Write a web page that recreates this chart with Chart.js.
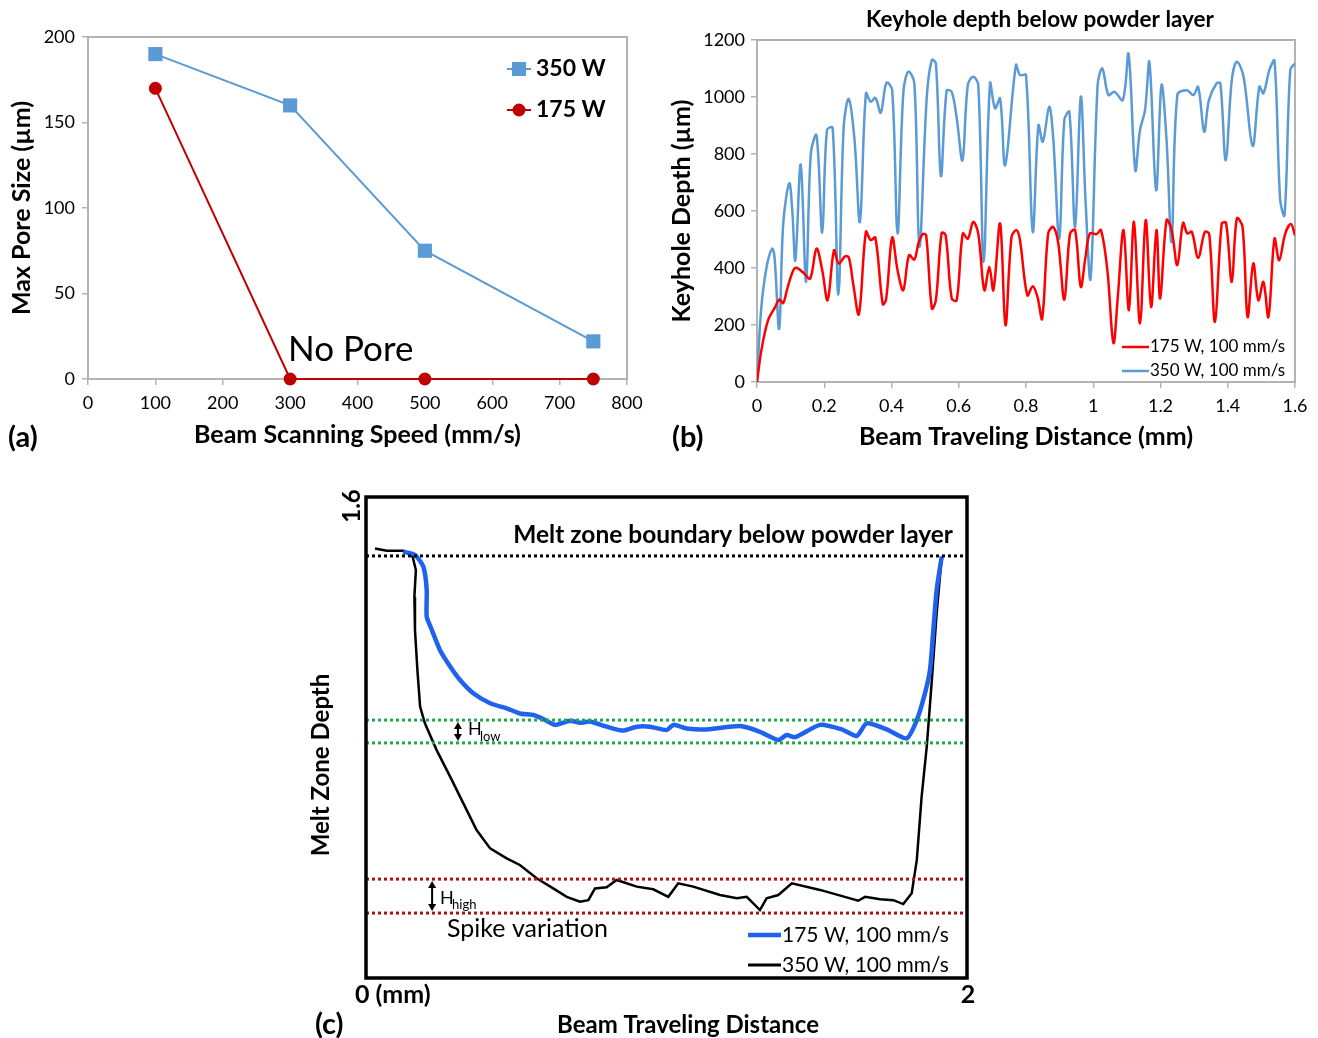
<!DOCTYPE html>
<html>
<head>
<meta charset="utf-8">
<script src="https://cdn.jsdelivr.net/npm/chart.js@4.4.1/dist/chart.umd.min.js"></script>
<style>
  html, body { margin: 0; padding: 0; background: #fff; width: 1318px; height: 1038px; overflow: hidden; }
  .panel { position: absolute; }
  canvas { display: block; }
</style>
</head>
<body>
<div class="panel" style="left:0;top:0;"><canvas id="chartA" width="650" height="460"></canvas></div>
<div class="panel" style="left:660px;top:0;"><canvas id="chartB" width="658" height="460"></canvas></div>
<div class="panel" style="left:300px;top:480px;"><canvas id="chartC" width="700" height="558"></canvas></div>
<script>
// ---------- (a) maximum pore size vs. beam scanning speed ----------
const scanSpeeds   = [100, 300, 500, 750];
const poreSize350W = [190, 160, 75, 22];
const poreSize175W = [170, 0, 0, 0];

// ---------- (b) keyhole depth below powder layer (µm) vs. distance (mm) ----------
const keyholeDist350W = [0, 0.012, 0.028, 0.045, 0.052, 0.066, 0.078, 0.096, 0.105, 0.114, 0.13, 0.146, 0.16, 0.177, 0.194, 0.208, 0.225, 0.242, 0.258, 0.273, 0.29, 0.306, 0.324, 0.338, 0.352, 0.368, 0.385, 0.402, 0.418, 0.435, 0.45, 0.468, 0.483, 0.505, 0.52, 0.532, 0.547, 0.564, 0.579, 0.594, 0.611, 0.627, 0.643, 0.658, 0.674, 0.693, 0.708, 0.723, 0.738, 0.77, 0.782, 0.8, 0.82, 0.837, 0.85, 0.869, 0.881, 0.899, 0.914, 0.929, 0.946, 0.963, 0.977, 0.992, 1.013, 1.027, 1.045, 1.063, 1.088, 1.105, 1.125, 1.139, 1.154, 1.167, 1.187, 1.203, 1.218, 1.233, 1.25, 1.278, 1.298, 1.312, 1.33, 1.344, 1.367, 1.378, 1.394, 1.412, 1.427, 1.447, 1.474, 1.494, 1.506, 1.524, 1.539, 1.556, 1.569, 1.586, 1.6];
const keyholeDepth350W = [0, 250, 400, 468, 440, 187, 556, 697, 600, 427, 763, 351, 800, 866, 524, 884, 892, 307, 900, 993, 850, 562, 1013, 983, 997, 945, 1050, 1024, 521, 1013, 1089, 1048, 474, 1001, 1130, 1118, 723, 1022, 1018, 925, 778, 1042, 1071, 1042, 421, 1048, 960, 995, 761, 1112, 1077, 1077, 527, 901, 843, 966, 855, 503, 919, 948, 544, 1001, 638, 363, 1042, 1100, 1007, 1018, 989, 1151, 743, 884, 954, 1122, 673, 1042, 849, 492, 1007, 1024, 1007, 1036, 878, 989, 1048, 1048, 778, 1059, 1124, 1071, 828, 1036, 1013, 1095, 1127, 638, 585, 1095, 1118];

const keyholeDist175W = [0, 0.013, 0.033, 0.054, 0.066, 0.078, 0.09, 0.108, 0.118, 0.138, 0.158, 0.177, 0.194, 0.21, 0.229, 0.243, 0.262, 0.273, 0.286, 0.303, 0.324, 0.338, 0.352, 0.374, 0.384, 0.402, 0.418, 0.435, 0.452, 0.468, 0.48, 0.493, 0.503, 0.52, 0.532, 0.549, 0.561, 0.579, 0.594, 0.612, 0.627, 0.643, 0.658, 0.676, 0.691, 0.703, 0.723, 0.739, 0.757, 0.772, 0.782, 0.804, 0.82, 0.834, 0.848, 0.866, 0.881, 0.896, 0.914, 0.931, 0.946, 0.963, 0.977, 0.99, 1.01, 1.023, 1.042, 1.06, 1.073, 1.09, 1.106, 1.121, 1.139, 1.156, 1.172, 1.188, 1.199, 1.218, 1.233, 1.25, 1.267, 1.28, 1.293, 1.312, 1.332, 1.345, 1.362, 1.382, 1.395, 1.412, 1.427, 1.444, 1.459, 1.476, 1.491, 1.506, 1.521, 1.539, 1.553, 1.571, 1.588, 1.6];
const keyholeDepth175W = [0, 111, 217, 263, 289, 277, 328, 392, 401, 383, 363, 468, 392, 287, 462, 416, 441, 437, 345, 238, 527, 498, 507, 273, 290, 507, 392, 322, 445, 430, 486, 519, 515, 258, 287, 523, 515, 293, 287, 521, 503, 562, 521, 322, 404, 322, 556, 199, 509, 533, 498, 304, 336, 299, 222, 521, 544, 486, 289, 521, 533, 334, 439, 521, 519, 533, 392, 137, 299, 533, 252, 562, 205, 568, 263, 533, 293, 568, 533, 410, 558, 521, 527, 436, 527, 519, 211, 556, 558, 351, 574, 544, 228, 416, 287, 351, 228, 503, 427, 521, 554, 515];

// ---------- (c) melt zone boundary below powder layer ----------
const meltDist175W  = [0.124, 0.163, 0.191, 0.202, 0.202, 0.219, 0.246, 0.28, 0.313, 0.357, 0.413, 0.468, 0.512, 0.557, 0.585, 0.629, 0.679, 0.712, 0.745, 0.801, 0.856, 0.901, 0.945, 1.001, 1.023, 1.067, 1.134, 1.245, 1.311, 1.372, 1.4, 1.428, 1.511, 1.583, 1.633, 1.666, 1.733, 1.799, 1.833, 1.86, 1.877, 1.888, 1.899, 1.916];
const meltDepth175W = [1.418, 1.407, 1.368, 1.291, 1.202, 1.158, 1.091, 1.036, 0.991, 0.947, 0.914, 0.897, 0.88, 0.875, 0.864, 0.842, 0.856, 0.849, 0.853, 0.836, 0.823, 0.836, 0.836, 0.825, 0.842, 0.83, 0.827, 0.838, 0.819, 0.792, 0.808, 0.801, 0.842, 0.827, 0.805, 0.847, 0.827, 0.797, 0.858, 0.947, 1.025, 1.158, 1.291, 1.402];

const meltDist350W  = [0.03, 0.069, 0.124, 0.155, 0.166, 0.161, 0.163, 0.171, 0.18, 0.196, 0.235, 0.28, 0.324, 0.368, 0.413, 0.468, 0.512, 0.568, 0.623, 0.668, 0.712, 0.74, 0.762, 0.801, 0.834, 0.901, 0.956, 1.006, 1.039, 1.089, 1.178, 1.234, 1.267, 1.311, 1.333, 1.372, 1.417, 1.511, 1.611, 1.638, 1.661, 1.711, 1.755, 1.788, 1.816, 1.833, 1.849, 1.866, 1.883, 1.899, 1.916];
const meltDepth350W = [1.429, 1.421, 1.421, 1.402, 1.357, 1.268, 1.158, 1.025, 0.903, 0.847, 0.758, 0.67, 0.581, 0.492, 0.431, 0.398, 0.376, 0.332, 0.298, 0.27, 0.254, 0.259, 0.298, 0.302, 0.326, 0.304, 0.295, 0.27, 0.315, 0.304, 0.276, 0.265, 0.27, 0.226, 0.265, 0.276, 0.315, 0.293, 0.265, 0.257, 0.27, 0.262, 0.259, 0.246, 0.282, 0.393, 0.603, 0.769, 0.991, 1.213, 1.402];

const powderBoundary = 1.404;          // top dotted reference line
const lowPowerBand   = [0.858, 0.782]; // H_low band (green)
const highPowerBand  = [0.329, 0.216]; // H_high band (red)
const meltDistRange  = [0, 2];

// ---------- shared helpers ----------
const FONT = 'Lato, "Open Sans", sans-serif';
const AXIS_GREY = '#b3b3b3';
Chart.defaults.font.family = FONT;
Chart.defaults.color = '#000';

const toXY = (xs, ys) => xs.map((x, i) => ({ x, y: ys[i] }));
const plainNumber = v => String(Math.round(v * 1000) / 1000);

function drawText(ctx, s, x, y, size, opts = {}) {
  ctx.save();
  ctx.font = `${opts.weight || 'normal'} ${size}px ${FONT}`;
  ctx.fillStyle = opts.color || '#000';
  ctx.textAlign = opts.align || 'left';
  ctx.textBaseline = 'middle';
  ctx.translate(x, y);
  if (opts.rotate) ctx.rotate(opts.rotate);
  ctx.fillText(s, 0, 0);
  ctx.restore();
}

function plotBox(color, width) {
  return {
    id: 'plotBox',
    beforeDatasetsDraw(chart) {
      const { ctx, chartArea: a } = chart;
      ctx.save();
      ctx.strokeStyle = color;
      ctx.lineWidth = width;
      ctx.strokeRect(a.left, a.top, a.right - a.left, a.bottom - a.top);
      ctx.restore();
    }
  };
}

function axisStyle(extra) {
  return Object.assign({
    grid: { drawOnChartArea: false, drawTicks: true, tickLength: 6, color: AXIS_GREY, lineWidth: 1.5 },
    border: { color: AXIS_GREY, width: 2 }
  }, extra);
}

// ---------- chart (a) ----------
new Chart(document.getElementById('chartA'), {
  type: 'scatter',
  data: {
    datasets: [
      { label: '350 W', data: toXY(scanSpeeds, poreSize350W), showLine: true, clip: false,
        borderColor: '#5b9bd5', backgroundColor: '#5b9bd5', borderWidth: 2,
        pointStyle: 'rect', pointRadius: 10, pointBorderWidth: 0 },
      { label: '175 W', data: toXY(scanSpeeds, poreSize175W), showLine: true, clip: false,
        borderColor: '#c00000', backgroundColor: '#c00000', borderWidth: 2,
        pointStyle: 'circle', pointRadius: 6.5, pointBorderWidth: 0 }
    ]
  },
  options: {
    responsive: false, animation: false, devicePixelRatio: 1,
    layout: { padding: { left: 0, top: 37, right: 23, bottom: 0 } },
    plugins: { legend: { display: false }, tooltip: { enabled: false } },
    scales: {
      x: axisStyle({
        type: 'linear', min: 0, max: 800,
        ticks: { stepSize: 100, padding: 7, font: { size: 18 }, color: '#000', callback: plainNumber },
        title: { display: true, text: 'Beam Scanning Speed (mm/s)', font: { size: 25, weight: 'bold' }, color: '#000', padding: { top: 0, bottom: 10 } },
        afterFit(s) { s.height = 81; }
      }),
      y: axisStyle({
        min: 0, max: 200,
        ticks: { stepSize: 50, padding: 7, font: { size: 18 }, color: '#000', callback: plainNumber },
        title: { display: true, text: 'Max Pore Size (µm)', font: { size: 25, weight: 'bold' }, color: '#000', padding: { top: 7, bottom: 0 } },
        afterFit(s) { s.width = 88; }
      })
    }
  },
  plugins: [plotBox(AXIS_GREY, 2), {
    id: 'panelA',
    afterDraw(chart) {
      const ctx = chart.ctx;
      drawText(ctx, '(a)', 8, 438, 29, { weight: 'bold' });
      drawText(ctx, 'No Pore', 288, 350, 35);
      // legend
      const ds = chart.data.datasets;
      const rows = [[ds[0], 69], [ds[1], 110]];
      rows.forEach(([d, y]) => {
        ctx.save();
        ctx.strokeStyle = d.borderColor; ctx.lineWidth = 2;
        ctx.beginPath(); ctx.moveTo(507, y); ctx.lineTo(531, y); ctx.stroke();
        ctx.fillStyle = d.backgroundColor;
        if (d.pointStyle === 'rect') ctx.fillRect(512, y - 7, 14, 14);
        else { ctx.beginPath(); ctx.arc(519, y, 6.5, 0, Math.PI * 2); ctx.fill(); }
        ctx.restore();
        drawText(ctx, d.label, 536, y, 23, { weight: 'bold' });
      });
    }
  }]
});

// ---------- chart (b) ----------
new Chart(document.getElementById('chartB'), {
  type: 'scatter',
  data: {
    datasets: [
      { label: '175 W, 100 mm/s', data: toXY(keyholeDist175W, keyholeDepth175W), showLine: true,
        borderColor: '#ff0000', borderWidth: 2.5, pointRadius: 0, tension: 0.35 },
      { label: '350 W, 100 mm/s', data: toXY(keyholeDist350W, keyholeDepth350W), showLine: true,
        borderColor: '#5b9bd5', borderWidth: 2.5, pointRadius: 0, tension: 0.35 }
    ]
  },
  options: {
    responsive: false, animation: false, devicePixelRatio: 1,
    layout: { padding: { left: 0, top: 40, right: 23, bottom: 0 } },
    plugins: { legend: { display: false }, tooltip: { enabled: false } },
    scales: {
      x: axisStyle({
        type: 'linear', min: 0, max: 1.6,
        ticks: { stepSize: 0.2, padding: 7, font: { size: 18 }, color: '#000', callback: plainNumber },
        title: { display: true, text: 'Beam Traveling Distance (mm)', font: { size: 25, weight: 'bold' }, color: '#000', padding: { top: 0, bottom: 8 } },
        afterFit(s) { s.height = 78; }
      }),
      y: axisStyle({
        min: 0, max: 1200,
        ticks: { stepSize: 200, padding: 6, font: { size: 18 }, color: '#000', callback: plainNumber },
        title: { display: true, text: 'Keyhole Depth (µm)', font: { size: 25, weight: 'bold' }, color: '#000', padding: { top: 7, bottom: 0 } },
        afterFit(s) { s.width = 97; }
      })
    }
  },
  plugins: [plotBox(AXIS_GREY, 2), {
    id: 'panelB',
    afterDraw(chart) {
      const ctx = chart.ctx;
      drawText(ctx, 'Keyhole depth below powder layer', 380, 20, 22.5, { weight: 'bold', align: 'center' });
      drawText(ctx, '(b)', 12, 438, 29, { weight: 'bold' });
      chart.data.datasets.forEach((d, i) => {
        const y = 347 + i * 24;
        ctx.save();
        ctx.strokeStyle = d.borderColor; ctx.lineWidth = 2.5;
        ctx.beginPath(); ctx.moveTo(462, y); ctx.lineTo(489, y); ctx.stroke();
        ctx.restore();
        drawText(ctx, d.label, 490, y, 17);
      });
    }
  }]
});

// ---------- chart (c) ----------
const levelLine = (y, color) => ({
  data: [{ x: meltDistRange[0], y }, { x: meltDistRange[1], y }], showLine: true,
  borderColor: color, borderWidth: 3, borderDash: [3, 3], pointRadius: 0
});

new Chart(document.getElementById('chartC'), {
  type: 'scatter',
  data: {
    datasets: [
      levelLine(powderBoundary, '#000'),
      levelLine(lowPowerBand[0], '#1faa4a'),
      levelLine(lowPowerBand[1], '#1faa4a'),
      levelLine(highPowerBand[0], '#b01010'),
      levelLine(highPowerBand[1], '#b01010'),
      { label: '175 W, 100 mm/s', data: toXY(meltDist175W, meltDepth175W), showLine: true,
        borderColor: '#1f62ee', borderWidth: 4.5, pointRadius: 0, tension: 0.2 },
      { label: '350 W, 100 mm/s', data: toXY(meltDist350W, meltDepth350W), showLine: true,
        borderColor: '#000', borderWidth: 2.5, pointRadius: 0, tension: 0 }
    ]
  },
  options: {
    responsive: false, animation: false, devicePixelRatio: 1,
    layout: { padding: { left: 66, top: 17, right: 33, bottom: 60 } },
    plugins: { legend: { display: false }, tooltip: { enabled: false } },
    scales: {
      x: { type: 'linear', min: meltDistRange[0], max: meltDistRange[1], display: false },
      y: { min: 0, max: 1.6, display: false }
    }
  },
  plugins: [{
    id: 'panelC',
    afterDraw(chart) {
      const { ctx, chartArea: a, scales: { x, y } } = chart;
      // frame
      ctx.save();
      ctx.strokeStyle = '#000'; ctx.lineWidth = 3.5;
      ctx.strokeRect(a.left, a.top, a.right - a.left, a.bottom - a.top);
      ctx.restore();

      drawText(ctx, 'Melt zone boundary below powder layer', 653, 55, 24.5, { weight: 'bold', align: 'right' });
      drawText(ctx, '1.6', a.left - 14, y.getPixelForValue(1.6) + 9, 24, { weight: 'bold', align: 'center', rotate: -Math.PI / 2 });
      drawText(ctx, '0 (mm)', x.getPixelForValue(0) - 11, 515, 25, { weight: 'bold' });
      drawText(ctx, '2', x.getPixelForValue(2) + 1, 515, 25, { weight: 'bold', align: 'center' });
      drawText(ctx, 'Beam Traveling Distance', 388, 545, 24, { weight: 'bold', align: 'center' });
      drawText(ctx, '(c)', 15, 545, 29, { weight: 'bold' });
      drawText(ctx, 'Melt Zone Depth', 21, 285, 24, { weight: 'bold', align: 'center', rotate: -Math.PI / 2 });
      drawText(ctx, 'Spike variation', 147, 449, 25);

      // double-headed arrows marking the band heights
      const arrow = (xv, y1v, y2v) => {
        const px = x.getPixelForValue(xv);
        const p1 = y.getPixelForValue(y1v) + 2, p2 = y.getPixelForValue(y2v) - 2;
        ctx.save();
        ctx.strokeStyle = '#000'; ctx.fillStyle = '#000'; ctx.lineWidth = 2;
        ctx.beginPath(); ctx.moveTo(px, p1 + 4); ctx.lineTo(px, p2 - 4); ctx.stroke();
        ctx.beginPath(); ctx.moveTo(px, p1); ctx.lineTo(px - 4, p1 + 7); ctx.lineTo(px + 4, p1 + 7); ctx.fill();
        ctx.beginPath(); ctx.moveTo(px, p2); ctx.lineTo(px - 4, p2 - 7); ctx.lineTo(px + 4, p2 - 7); ctx.fill();
        ctx.restore();
        return px;
      };
      const lx = arrow(0.306, lowPowerBand[0], lowPowerBand[1]);
      const lyc = (y.getPixelForValue(lowPowerBand[0]) + y.getPixelForValue(lowPowerBand[1])) / 2;
      drawText(ctx, 'H', lx + 10, lyc - 2, 18);
      drawText(ctx, 'low', lx + 22, lyc + 5, 13);
      const hx = arrow(0.22, highPowerBand[0], highPowerBand[1]);
      const hyc = (y.getPixelForValue(highPowerBand[0]) + y.getPixelForValue(highPowerBand[1])) / 2;
      drawText(ctx, 'H', hx + 8, hyc + 2, 18);
      drawText(ctx, 'high', hx + 20, hyc + 9, 13);

      // legend
      const ds = chart.data.datasets.slice(5);
      ds.forEach((d, i) => {
        const yy = 455 + i * 30;
        ctx.save();
        ctx.strokeStyle = d.borderColor; ctx.lineWidth = i === 0 ? 4.5 : 3;
        ctx.beginPath(); ctx.moveTo(448, yy); ctx.lineTo(481, yy); ctx.stroke();
        ctx.restore();
        drawText(ctx, d.label, 482, yy, 21);
      });
    }
  }]
});
</script>
</body>
</html>
